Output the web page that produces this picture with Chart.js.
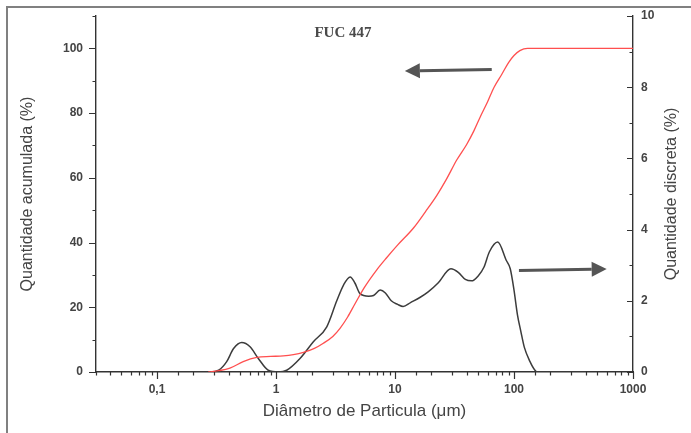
<!DOCTYPE html>
<html>
<head>
<meta charset="utf-8">
<script src="https://cdn.jsdelivr.net/npm/chart.js@4"></script>
<style>
  html,body{margin:0;padding:0;background:#fff;}
  #wrap{position:relative;width:691px;height:433px;overflow:hidden;background:#fff;}
  #frameTop{position:absolute;left:6px;top:6px;width:700px;height:2px;background:#808080;}
  #frameLeft{position:absolute;left:6px;top:6px;width:2px;height:440px;background:#808080;}
</style>
</head>
<body>
<div id="wrap">
  <canvas id="c" width="691" height="433"></canvas>
  <div id="frameTop"></div>
  <div id="frameLeft"></div>
</div>
<script>
(function(){
  // cumulative (left axis, %)
  const DIAM_CUM = [0.27,0.33,0.41,0.53,0.69,0.9,1.15,1.4,1.7,2.1,2.5,3.0,3.45,4.0,4.6,5.5,7.0,8.5,10.5,14.3,18,22.4,27,33,40,46,52,60,68,79,90,100,112,130,1000];
  const CUM      = [0,0.4,1.2,3.2,4.5,4.8,5.0,5.4,6.1,7.3,8.9,11,13.5,17,21,26,31.5,35.3,39.2,44.5,49.5,54.5,59.5,65.5,70.3,74.5,78.8,83.5,88,92,95.6,97.8,99.3,100,100];

  // discrete (right axis, %)
  const DIAM_DISC = [0.07,0.28,0.33,0.385,0.44,0.515,0.605,0.71,0.86,1.05,1.23,1.59,2.06,2.67,3.24,3.7,4.2,4.6,5.08,6.0,6.6,7.5,8.3,9.3,10.5,11.7,13.5,16.3,19,23,29.5,34,39,44,50,56,62,73,86,93,100,107,114,122,136,150,158,400];
  const DISC      = [0,0,0.05,0.29,0.66,0.83,0.71,0.38,0.05,0,0.05,0.38,0.85,1.27,2.0,2.45,2.67,2.5,2.2,2.13,2.15,2.3,2.22,2.0,1.9,1.84,1.95,2.1,2.25,2.5,2.9,2.8,2.6,2.56,2.7,2.95,3.37,3.65,3.14,2.9,2.3,1.6,1.15,0.7,0.3,0.05,0,0];

  // tick labels
  const X_LABELED = [0.1,1,10,100,1000];
  const Y_LABELED = [0,20,40,60,80,100];
  const Y2_LABELED = [0,2,4,6,8,10];

  const FONT = '"Liberation Sans", Arial, sans-serif';
  const INK = '#333';

  const isDecade = v => X_LABELED.some(d => Math.abs(d - v) < d*1e-6);
  const fmtX = v => String(v).replace('.', ',');

  function fixBox(size, horiz){
    return s => {
      if(horiz) s.height = size; else s.width = size;
      s.paddingTop = s.paddingBottom = s.paddingLeft = s.paddingRight = 0;
    };
  }

  // arrows are annotations, given in data units
  const ARROWS = [
    {axis:'y',  from:[65, 93.5],  to:[12.1, 93.0]},
    {axis:'y2', from:[110, 2.85], to:[601, 2.89]}
  ];

  const extras = {
    id:'extras',
    afterDraw(chart){
      const {ctx, chartArea:a, scales} = chart;
      const {x, y, y2} = scales;
      ctx.save();
      // tick marks
      ctx.strokeStyle = INK; ctx.lineWidth = 1.2;
      ctx.beginPath();
      x.ticks.forEach(t=>{
        const px = Math.round(x.getPixelForValue(t.value))+0.5;
        const len = isDecade(t.value) ? 7 : 3.5;
        ctx.moveTo(px, a.bottom); ctx.lineTo(px, a.bottom+len);
      });
      y.ticks.forEach(t=>{
        const py = Math.round(y.getPixelForValue(t.value))+0.5;
        const len = Y_LABELED.includes(t.value) ? 7 : 3.5;
        ctx.moveTo(a.left, py); ctx.lineTo(a.left-len, py);
      });
      y2.ticks.forEach(t=>{
        const py = Math.round(y2.getPixelForValue(t.value))+0.5;
        const len = Y2_LABELED.includes(t.value) ? 6 : 3.5;
        ctx.moveTo(a.right, py); ctx.lineTo(a.right-len, py);
      });
      ctx.stroke();

      // arrows
      ARROWS.forEach(ar=>{
        const ys = scales[ar.axis];
        const x0 = x.getPixelForValue(ar.from[0]), y0 = ys.getPixelForValue(ar.from[1]);
        const x1 = x.getPixelForValue(ar.to[0]),   y1 = ys.getPixelForValue(ar.to[1]);
        const ang = Math.atan2(y1-y0, x1-x0), hl = 15, hw = 7.5;
        const bx = x1 - Math.cos(ang)*hl, by = y1 - Math.sin(ang)*hl;
        ctx.strokeStyle = '#555'; ctx.fillStyle = '#555'; ctx.lineWidth = 3;
        ctx.beginPath(); ctx.moveTo(x0,y0); ctx.lineTo(bx,by); ctx.stroke();
        ctx.beginPath();
        ctx.moveTo(x1,y1);
        ctx.lineTo(bx - Math.sin(ang)*hw, by + Math.cos(ang)*hw);
        ctx.lineTo(bx + Math.sin(ang)*hw, by - Math.cos(ang)*hw);
        ctx.closePath(); ctx.fill();
      });

      // chart title
      ctx.fillStyle = '#4a4a4a';
      ctx.font = 'bold 15px "Liberation Serif", "Times New Roman", serif';
      ctx.textAlign = 'center'; ctx.textBaseline = 'middle';
      ctx.fillText('FUC 447', 343, 33);

      // right axis title, reading upward
      ctx.translate(672, (a.top+a.bottom)/2);
      ctx.rotate(-Math.PI/2);
      ctx.fillStyle = '#444';
      ctx.font = '16px ' + FONT;
      ctx.fillText('Quantidade discreta (%)', 0, 0);
      ctx.restore();
    }
  };

  const tickFont = {family: FONT, size: 12, weight: 'bold'};

  new Chart(document.getElementById('c'), {
    type: 'line',
    data: {
      datasets: [
        {
          label: 'Quantidade acumulada',
          data: DIAM_CUM.map((d,i)=>({x:d, y:CUM[i]})),
          yAxisID: 'y',
          borderColor: 'rgba(255,70,70,0.95)',
          borderWidth: 1.3,
          pointRadius: 0,
          cubicInterpolationMode: 'monotone',
          fill: false
        },
        {
          label: 'Quantidade discreta',
          data: DIAM_DISC.map((d,i)=>({x:d, y:DISC[i]})),
          yAxisID: 'y2',
          borderColor: '#3c3c3c',
          borderWidth: 1.5,
          pointRadius: 0,
          cubicInterpolationMode: 'monotone',
          fill: false
        }
      ]
    },
    options: {
      responsive: false,
      devicePixelRatio: 1,
      animation: false,
      layout: {padding: {top: 16, left: 0, right: 0, bottom: 0}},
      plugins: {legend: {display: false}, tooltip: {enabled: false}, title: {display: false}},
      scales: {
        x: {
          type: 'logarithmic',
          position: 'bottom',
          min: 0.0307, max: 1000,
          grid: {display: false, drawTicks: false},
          border: {display: true, color: INK, width: 1.4},
          ticks: {
            autoSkip: false, maxRotation: 0, padding: 10,
            color: '#444', font: tickFont,
            callback: v => isDecade(v) ? fmtX(v) : ''
          },
          title: {display: true, text: 'Diâmetro de Particula (\u03bcm)', color: '#444',
                  font: {family: FONT, size: 17}, padding: {top: 0, bottom: 11}},
          afterFit: fixBox(61, true)
        },
        y: {
          position: 'left',
          min: 0, max: 110,
          grid: {display: false, drawTicks: false},
          border: {display: true, color: INK, width: 1.4},
          ticks: {
            stepSize: 10, padding: 13, color: '#444', font: tickFont,
            callback: v => Y_LABELED.includes(v) ? String(v) : ''
          },
          title: {display: true, text: 'Quantidade acumulada (%)', color: '#444',
                  font: {family: FONT, size: 16}, padding: {top: 18, bottom: 0}},
          afterFit: fixBox(96, false)
        },
        y2: {
          position: 'right',
          min: 0, max: 10,
          grid: {display: false, drawTicks: false},
          border: {display: true, color: INK, width: 1.4},
          ticks: {
            stepSize: 1, padding: 8, color: '#444', font: tickFont,
            callback: v => Y2_LABELED.includes(v) ? String(v) : ''
          },
          afterFit: fixBox(58, false)
        }
      }
    },
    plugins: [extras]
  });
})();
</script>
</body>
</html>
